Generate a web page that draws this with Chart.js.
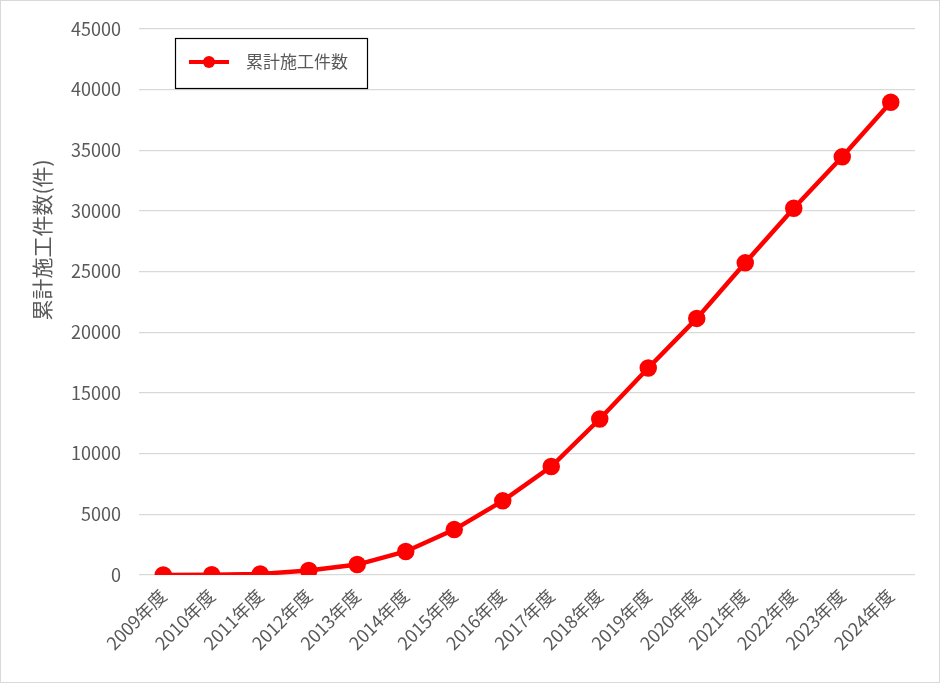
<!DOCTYPE html>
<html lang="ja">
<head>
<meta charset="utf-8">
<script src="https://cdn.jsdelivr.net/npm/chart.js@4.4.1/dist/chart.umd.min.js"></script>
<style>
  html, body { margin: 0; padding: 0; background: #fff; }
  #wrap { position: relative; width: 940px; height: 683px; }
</style>
</head>
<body>
<div id="wrap"><canvas id="chart" width="940" height="683"></canvas></div>
<script>
// 累計施工件数の推移
const years = [
  "2009年度", "2010年度", "2011年度", "2012年度", "2013年度", "2014年度",
  "2015年度", "2016年度", "2017年度", "2018年度", "2019年度", "2020年度",
  "2021年度", "2022年度", "2023年度", "2024年度"
];
const cumulativeCount = [
  0, 20, 90, 370, 860, 1940, 3740, 6110,
  8940, 12850, 17050, 21140, 25720, 30220, 34450, 38950
];
const seriesLabel = "累計施工件数";
const yTitle = "累計施工件数(件)";

const FONT = "'Noto Sans CJK JP', 'Noto Sans', sans-serif";
const textColor = "#595959";
const red = "#ff0000";

// 外枠・縦軸タイトル・凡例(グラフ内の左上)を描く
const frameAndLegend = {
  id: "frameAndLegend",
  beforeDraw(chart) {
    const ctx = chart.ctx;
    ctx.save();
    ctx.fillStyle = "#fff";
    ctx.fillRect(0, 0, chart.width, chart.height);
    ctx.strokeStyle = "#d9d9d9";
    ctx.lineWidth = 1;
    ctx.strokeRect(0.5, 0.5, chart.width - 1, chart.height - 1);
    ctx.restore();
  },
  afterDraw(chart) {
    const ctx = chart.ctx;
    const ds = chart.data.datasets[0];
    ctx.save();
    // 縦軸タイトル
    ctx.translate(42, 240);
    ctx.rotate(-Math.PI / 2);
    ctx.fillStyle = textColor;
    ctx.font = "21px " + FONT;
    ctx.textAlign = "center";
    ctx.textBaseline = "middle";
    ctx.fillText(yTitle, 0, 0);
    ctx.restore();

    ctx.save();
    ctx.fillStyle = "#fff";
    ctx.fillRect(175, 38, 192, 50);
    ctx.strokeStyle = "#000";
    ctx.lineWidth = 1.2;
    ctx.strokeRect(175.5, 38.5, 192, 50);
    ctx.strokeStyle = ds.borderColor;
    ctx.lineWidth = 4;
    ctx.beginPath();
    ctx.moveTo(189, 62);
    ctx.lineTo(229, 62);
    ctx.stroke();
    ctx.fillStyle = ds.pointBackgroundColor;
    ctx.beginPath();
    ctx.arc(209, 62, 6, 0, Math.PI * 2);
    ctx.fill();
    ctx.fillStyle = textColor;
    ctx.font = "17px " + FONT;
    ctx.textBaseline = "middle";
    ctx.fillText(ds.label, 246, 62);
    ctx.restore();
  }
};

new Chart(document.getElementById("chart"), {
  type: "line",
  data: {
    labels: years,
    datasets: [{
      label: seriesLabel,
      data: cumulativeCount,
      borderColor: red,
      backgroundColor: red,
      pointBackgroundColor: red,
      pointBorderColor: red,
      borderWidth: 4.5,
      pointRadius: 6.5,
      tension: 0
    }]
  },
  options: {
    responsive: false,
    animation: false,
    layout: { padding: { top: 25, right: 25, left: 0, bottom: 0 } },
    plugins: {
      legend: { display: false },
      tooltip: { enabled: false }
    },
    scales: {
      x: {
        offset: true,
        grid: { display: false },
        border: { display: false },
        ticks: {
          color: textColor,
          font: { family: FONT, size: 18 },
          minRotation: 45,
          maxRotation: 45,
          autoSkip: false,
          padding: 2
        },
        afterFit: s => { s.height = 108; }
      },
      y: {
        min: 0,
        max: 45000,
        grid: { color: "#d9d9d9", lineWidth: 1.3, drawTicks: false },
        border: { display: false },
        ticks: {
          stepSize: 5000,
          color: textColor,
          font: { family: FONT, size: 18 },
          padding: 18,
          callback: v => String(v)
        },
        afterFit: s => { s.width = 139; }
      }
    }
  },
  plugins: [frameAndLegend]
});
</script>
</body>
</html>
